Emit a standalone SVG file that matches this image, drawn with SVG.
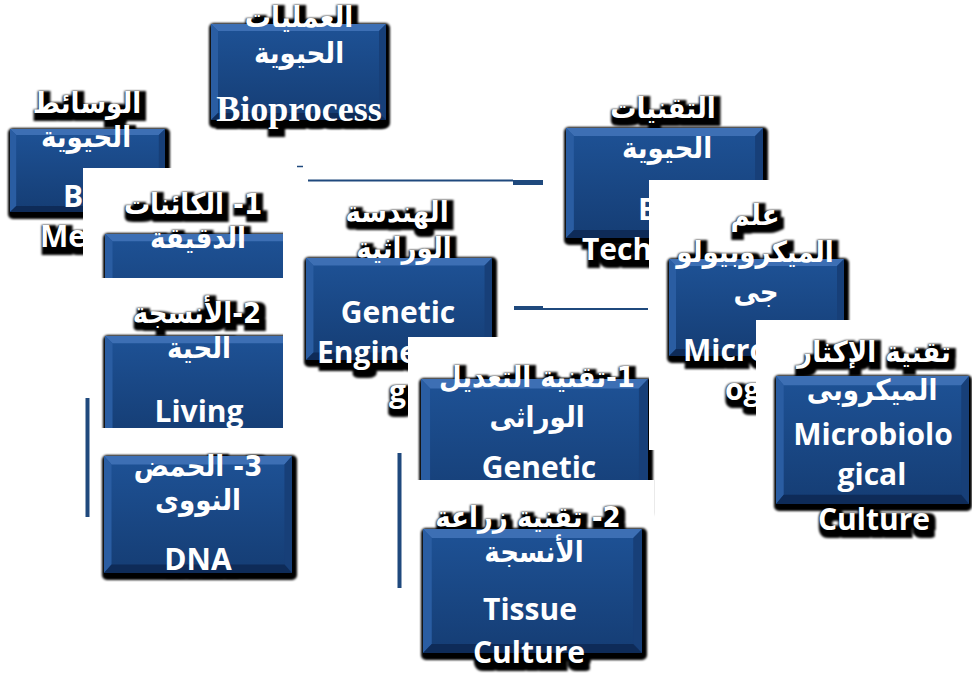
<svg xmlns="http://www.w3.org/2000/svg" xmlns:xlink="http://www.w3.org/1999/xlink" width="972" height="681" viewBox="0 0 972 681">
<style>
.ar{font-family:"DejaVu Sans Condensed","DejaVu Sans","Noto Sans",sans-serif;font-weight:bold;font-size:29px;direction:rtl;text-anchor:middle}
.en{font-family:"Open Sans","Liberation Sans",sans-serif;font-weight:bold;font-size:30px;text-anchor:middle}
.st{text-anchor:start}
.tm{font-family:"Liberation Serif",serif;font-weight:bold;font-size:36px;text-anchor:middle}
.sh{fill:#000;filter:url(#tsf)}
.bs{fill:#000;filter:url(#bsf)}
.ln{stroke:#1f497d;fill:none}
.lf{fill:#1f497d}
</style>
<defs>
<filter id="tsf" filterUnits="userSpaceOnUse" x="0" y="0" width="972" height="681">
<feMorphology in="SourceAlpha" operator="dilate" radius="3.5" result="d"/>
<feOffset in="d" dx="2.5" dy="4" result="o"/>
<feGaussianBlur in="o" stdDeviation="0.8"/>
</filter>
<filter id="bsf" filterUnits="userSpaceOnUse" x="0" y="0" width="972" height="681">
<feGaussianBlur in="SourceGraphic" stdDeviation="1.2"/>
</filter>
<linearGradient id="face" x1="0" y1="0" x2="0" y2="1">
<stop offset="0" stop-color="#1e5296"/>
<stop offset="1" stop-color="#153d74"/>
</linearGradient>
<symbol id="bx" viewBox="0 0 200 110" preserveAspectRatio="none">
<rect x="0" y="0" width="200" height="110" fill="url(#face)"/>
<polygon points="0,0 200,0 192,8 8,8" fill="#3d6fb4"/>
<polygon points="0,0 8,8 8,102 0,110" fill="#2a5da2"/>
<polygon points="200,0 200,110 192,102 192,8" fill="#173f78"/>
<polygon points="0,110 8,102 192,102 200,110" fill="#0e2b58"/>
</symbol>
<clipPath id="cB"><rect x="0" y="0" width="972" height="168"/><rect x="0" y="0" width="83" height="681"/></clipPath>
<clipPath id="cC"><rect x="0" y="0" width="283" height="278"/></clipPath>
<clipPath id="cD"><rect x="0" y="0" width="283" height="428"/></clipPath>
<clipPath id="cF"><rect x="0" y="0" width="972" height="337"/><rect x="0" y="0" width="408" height="681"/></clipPath>
<clipPath id="cI"><rect x="0" y="0" width="972" height="180"/><rect x="0" y="0" width="649" height="681"/></clipPath>
<clipPath id="cG"><rect x="0" y="0" width="649" height="480"/><rect x="649" y="450" width="5" height="30"/><rect x="654" y="450" width="30" height="100"/></clipPath>
<clipPath id="cH"><rect x="0" y="0" width="972" height="320"/><rect x="0" y="0" width="756" height="681"/></clipPath>
</defs>
<rect x="0" y="0" width="972" height="681" fill="#fff"/>

<g id="connectors">
<line class="ln" x1="297" y1="166.5" x2="303" y2="166.5" stroke-width="1.5"/>
<line class="ln" x1="308" y1="180.5" x2="513" y2="180.5" stroke-width="2"/>
<rect class="lf" x="513" y="180" width="30" height="5"/>
<rect class="lf" x="514" y="306" width="29" height="4"/>
<line class="ln" x1="543" y1="309" x2="648" y2="309" stroke-width="2"/>
<line class="ln" x1="87.5" y1="398" x2="87.5" y2="517" stroke-width="4"/>
<line class="ln" x1="399.5" y1="453" x2="399.5" y2="588" stroke-width="4"/>
</g>

<g id="n-bioprocess">
<use href="#t-bioprocess" class="sh"/>
<rect class="bs" x="209" y="23" width="181" height="105" rx="5"/>
<use href="#bx" x="211" y="24" width="175" height="96"/>
<g fill="#fff"><g id="t-bioprocess">
<text class="ar" x="299" y="27">العمليات</text>
<text class="ar" x="299" y="63">الحيوية</text>
<text class="tm" x="299" y="121">Bioprocess</text>
</g></g>
</g>

<g id="n-biomedia" clip-path="url(#cB)">
<use href="#t-biomedia" class="sh"/>
<rect class="bs" x="8" y="128" width="162" height="91" rx="5"/>
<use href="#bx" x="10" y="129" width="155" height="83"/>
<g fill="#fff"><g id="t-biomedia">
<text class="ar" x="87" y="113">الوسائط</text>
<text class="ar" x="86" y="147">الحيوية</text>
<text class="en st" x="63" y="207">B</text>
<text class="en st" x="40" y="247">Me</text>
</g></g>
</g>

<g id="n-micro" clip-path="url(#cC)">
<use href="#t-micro" class="sh"/>
<rect class="bs" x="103" y="233" width="195" height="108" rx="5"/>
<use href="#bx" x="105" y="234" width="188" height="100"/>
<g fill="#fff"><g id="t-micro">
<text class="ar" x="193" y="214">1- الكائنات</text>
<text class="ar" x="198" y="248">الدقيقة</text>
</g></g>
</g>

<g id="n-living" clip-path="url(#cD)">
<use href="#t-living" class="sh"/>
<rect class="bs" x="103" y="335" width="195" height="108" rx="5"/>
<use href="#bx" x="105" y="336" width="188" height="100"/>
<g fill="#fff"><g id="t-living">
<text class="ar" x="197" y="323">2-الأنسجة</text>
<text class="ar" x="199" y="358">الحية</text>
<text class="en" x="199" y="422">Living</text>
</g></g>
</g>

<g id="n-dna">
<use href="#t-dna" class="sh"/>
<rect class="bs" x="102" y="455" width="195" height="125" rx="5"/>
<use href="#bx" x="104" y="456" width="188" height="117"/>
<g fill="#fff"><g id="t-dna">
<text class="ar" x="198" y="476">3- الحمض</text>
<text class="ar" x="198" y="510">النووى</text>
<text class="en" x="198" y="570">DNA</text>
</g></g>
</g>

<g id="n-genetic-eng" clip-path="url(#cF)">
<use href="#t-genetic-eng" class="sh"/>
<rect class="bs" x="304" y="257" width="193" height="110" rx="5"/>
<use href="#bx" x="306" y="258" width="186" height="102"/>
<g fill="#fff"><g id="t-genetic-eng">
<text class="ar" x="397" y="222">الهندسة</text>
<text class="ar" x="404" y="258">الوراثية</text>
<text class="en" x="398" y="323">Genetic</text>
<text class="en st" x="317" y="363">Engine</text>
<text class="en st" x="389" y="402">g</text>
</g></g>
</g>

<g id="n-biotech" clip-path="url(#cI)">
<use href="#t-biotech" class="sh"/>
<rect class="bs" x="564" y="127" width="204" height="118" rx="5"/>
<use href="#bx" x="566" y="128" width="197" height="110"/>
<g fill="#fff"><g id="t-biotech">
<text class="ar" x="663" y="118">التقنيات</text>
<text class="ar" x="667" y="158">الحيوية</text>
<text class="en st" x="638" y="220">B</text>
<text class="en st" x="582" y="260">Tech</text>
</g></g>
</g>

<g id="n-gm" clip-path="url(#cG)">
<use href="#t-gm" class="sh"/>
<rect class="bs" x="419" y="378" width="234" height="140" rx="5"/>
<use href="#bx" x="421" y="379" width="227" height="132"/>
<g fill="#fff"><g id="t-gm">
<text class="ar" x="537" y="387">1-تقنية التعديل</text>
<text class="ar" x="537" y="427">الوراثى</text>
<text class="en" x="539" y="478">Genetic</text>
</g></g>
</g>

<g id="n-microbiology" clip-path="url(#cH)">
<use href="#t-microbiology" class="sh"/>
<rect class="bs" x="667" y="258" width="182" height="105" rx="5"/>
<use href="#bx" x="669" y="259" width="175" height="97"/>
<g fill="#fff"><g id="t-microbiology">
<text class="ar" x="755" y="225">علم</text>
<text class="ar" x="755" y="262">الميكروبيولو</text>
<text class="ar" x="756" y="302">جى</text>
<text class="en st" x="683" y="361">Micro</text>
<text class="en st" x="725" y="400">og</text>
</g></g>
</g>

<g id="n-culture">
<use href="#t-culture" class="sh"/>
<rect class="bs" x="774" y="375" width="198" height="136" rx="5"/>
<use href="#bx" x="776" y="376" width="193" height="128"/>
<g fill="#fff"><g id="t-culture">
<text class="ar" x="874" y="362">تقنية الإكثار</text>
<text class="ar" x="872" y="400">الميكروبى</text>
<text class="en" x="873" y="445">Microbiolo</text>
<text class="en" x="872" y="485">gical</text>
<text class="en" x="874" y="530">Culture</text>
</g></g>
</g>

<g id="n-tissue">
<use href="#t-tissue" class="sh"/>
<rect class="bs" x="421" y="528" width="226" height="132" rx="5"/>
<use href="#bx" x="423" y="529" width="219" height="124"/>
<g fill="#fff"><g id="t-tissue">
<text class="ar" x="528" y="527">2- تقنية زراعة</text>
<text class="ar" x="534" y="562">الأنسجة</text>
<text class="en" x="530" y="620">Tissue</text>
<text class="en" x="529" y="663">Culture</text>
</g></g>
</g>
</svg>
